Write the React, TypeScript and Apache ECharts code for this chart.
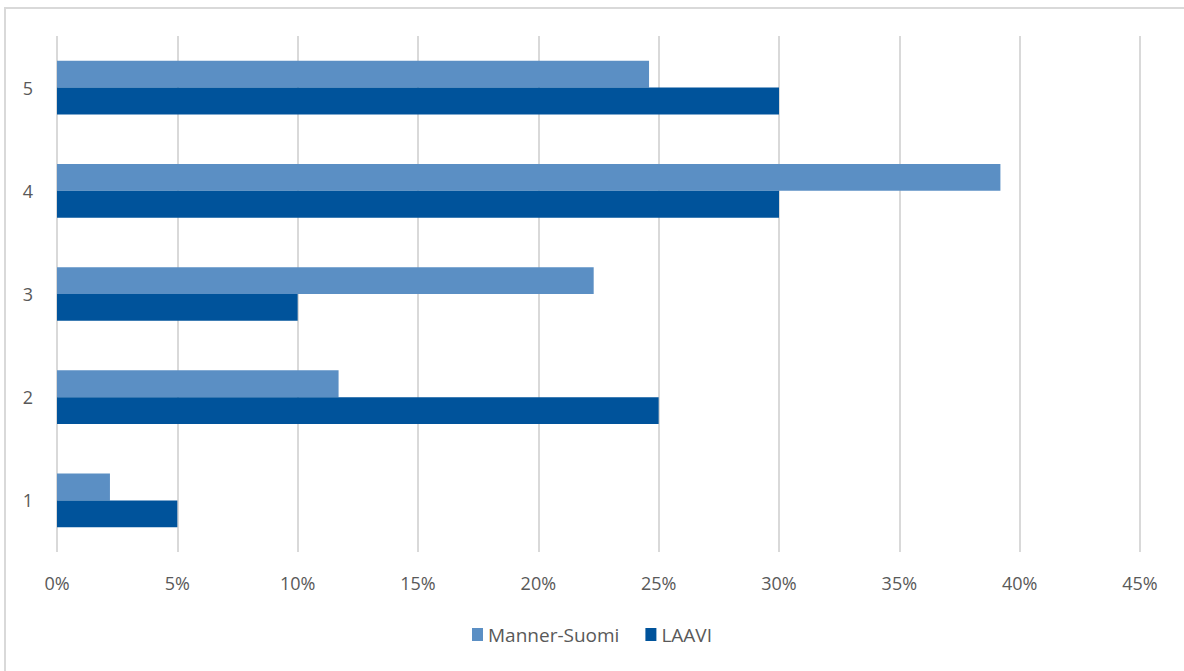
import React, { useEffect, useRef } from "react";
import * as echarts from "echarts";

const categories = ["1", "2", "3", "4", "5"];
const mannerSuomi = [2.2, 11.7, 22.3, 39.2, 24.6];
const laavi = [5, 25, 10, 30, 30];
const seriesNames = ["Manner-Suomi", "LAAVI"];

export default function App() {
  const ref = useRef<HTMLDivElement>(null);
  useEffect(() => {
    const chart = echarts.init(ref.current!, null, { renderer: "svg" });
    const font = "'Open Sans', sans-serif";
    chart.setOption({
      animation: false,
      backgroundColor: "#ffffff",
      graphic: [
        {
          type: "rect",
          shape: { x: 5, y: 8, width: 1300, height: 800 },
          style: { fill: "none", stroke: "#d9d9d9", lineWidth: 2 },
          silent: true,
        },
      ],
      grid: { left: 57, right: 44, top: 36, bottom: 119, containLabel: false },
      legend: {
        data: seriesNames,
        bottom: 22,
        left: "center",
        itemWidth: 11,
        itemHeight: 13,
        itemGap: 26,
        icon: "rect",
        textStyle: { color: "#595959", fontSize: 19, fontFamily: font },
      },
      xAxis: {
        type: "value",
        min: 0,
        max: 45,
        interval: 5,
        axisLabel: {
          formatter: (v: number) => v + "%",
          color: "#595959",
          fontSize: 18,
          fontFamily: font,
          margin: 22,
        },
        axisLine: { show: false },
        axisTick: { show: false },
        splitLine: { show: true, lineStyle: { color: "#d9d9d9", width: 2 } },
      },
      yAxis: {
        type: "category",
        data: categories,
        axisLabel: { color: "#595959", fontSize: 18, fontFamily: font, margin: 24 },
        axisLine: { show: false },
        axisTick: { show: false },
        splitLine: { show: false },
      },
      series: [
        {
          name: seriesNames[0],
          type: "bar",
          data: mannerSuomi,
          itemStyle: { color: "#5B8FC4" },
          barGap: "0%",
          barCategoryGap: "48%",
        },
        {
          name: seriesNames[1],
          type: "bar",
          data: laavi,
          itemStyle: { color: "#00539B" },
          barGap: "0%",
          barCategoryGap: "48%",
        },
      ],
    });
    return () => chart.dispose();
  }, []);
  return (
    <div
      ref={ref}
      style={{ position: "fixed", left: 0, top: 0, width: 1184, height: 671 }}
    />
  );
}
